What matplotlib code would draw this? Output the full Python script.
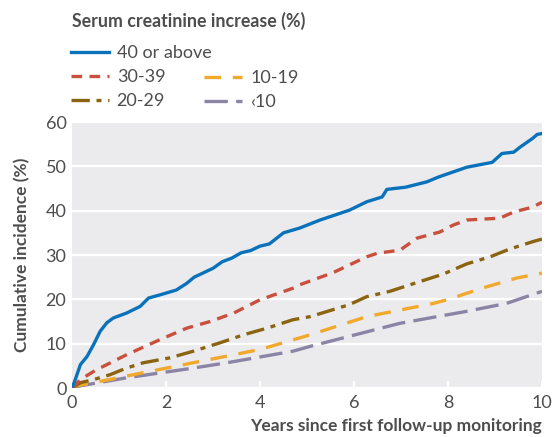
import numpy as np
import matplotlib.pyplot as plt

plt.rcParams['font.family'] = ['Lato', 'DejaVu Sans']

# cumulative incidence (%), by serum creatinine increase group
years_40 = [0, 0.07, 0.18, 0.32, 0.46, 0.6, 0.74, 0.88, 1.16, 1.45, 1.63, 1.87, 2.22, 2.44,
            2.6, 2.8, 3.0, 3.2, 3.4, 3.6, 3.8, 4.0, 4.2, 4.5, 4.85, 5.28, 5.9, 6.27, 6.6,
            6.7, 7.1, 7.55, 7.8, 8.4, 8.94, 9.15, 9.4, 9.53, 9.8, 9.9, 10.0]
inc_40 = [0, 1.9, 5.3, 7.1, 9.8, 12.8, 14.7, 15.8, 16.9, 18.4, 20.3, 21.0, 22.1, 23.6,
          25.0, 26.0, 27.0, 28.5, 29.3, 30.5, 31.0, 32.0, 32.5, 35.0, 36.1, 37.9, 40.1, 42.0, 43.1,
          44.8, 45.3, 46.5, 47.6, 49.8, 50.9, 52.9, 53.2, 54.3, 56.3, 57.2, 57.4]

years_30 = [0, 0.18, 0.5, 1.16, 1.87, 2.44, 2.94, 3.44, 4.0, 4.7, 4.85, 5.55, 6.27, 6.5,
            6.98, 7.34, 7.83, 8.1, 8.4, 9.1, 9.4, 9.8, 10.0]
inc_30 = [0, 1.9, 4.0, 7.5, 10.9, 13.5, 15.0, 16.9, 19.9, 22.5, 23.3, 26.0, 29.6, 30.4,
          31.1, 33.8, 35.2, 36.7, 37.9, 38.3, 39.7, 40.8, 41.9]

years_20 = [0, 0.18, 0.46, 0.81, 1.16, 1.52, 2.08, 2.58, 3.15, 3.65, 4.15, 4.7, 5.07,
            5.9, 6.27, 6.76, 7.4, 7.9, 8.4, 8.9, 9.3, 9.8, 10.0]
inc_20 = [0, 1.2, 1.9, 3.0, 4.5, 5.7, 6.8, 8.3, 10.2, 12.0, 13.5, 15.4, 16.1,
          18.8, 20.6, 21.8, 24.0, 25.7, 28.0, 29.6, 31.3, 33.0, 33.6]

years_10 = [0, 0.1, 0.46, 1.16, 1.87, 2.58, 3.3, 4.0, 4.36, 5.07, 6.27, 7.7, 8.04,
            8.75, 9.46, 10.0]
inc_10 = [0, 0.5, 1.2, 2.7, 4.2, 5.7, 7.2, 8.7, 9.8, 12.0, 16.1, 19.1, 20.1,
          22.6, 24.8, 25.9]

years_lt10 = [0, 0.18, 1.16, 1.87, 2.58, 3.3, 4.0, 4.7, 5.07, 6.98, 8.4, 9.25, 10.0]
inc_lt10 = [0, 0.5, 2.3, 3.4, 4.5, 5.7, 7.0, 8.3, 9.4, 14.6, 17.3, 19.1, 21.8]

x_ticks = [0, 2, 4, 6, 8, 10]
y_ticks = [0, 10, 20, 30, 40, 50, 60]

blue = '#0a72ba'
red = '#c9503c'
olive = '#8a6410'
orange = '#f0a92c'
purple = '#8c84a4'
text_col = '#4d4d4d'

fig = plt.figure(figsize=(5.52, 4.37), dpi=100)
ax = fig.add_axes([0.1304, 0.1121, 0.8514, 0.6087])
ax.set_facecolor('#ebebee')

l_lt10, = ax.plot(years_lt10, inc_lt10, color=purple, lw=2.4, dashes=(7, 2.5))
l_10, = ax.plot(years_10, inc_10, color=orange, lw=2.4, dashes=(5, 3.5))
l_20, = ax.plot(years_20, inc_20, color=olive, lw=2.4, dashes=(5.5, 2, 1.5, 2))
l_30, = ax.plot(years_30, inc_30, color=red, lw=2.4, dashes=(3.2, 2.2))
l_40, = ax.plot(years_40, inc_40, color=blue, lw=2.4)

ax.set_xlim(0, 10)
ax.set_ylim(0, 60)
ax.set_xticks(x_ticks)
ax.set_yticks(y_ticks)
ax.yaxis.grid(True, color='white', lw=1.6)
ax.set_axisbelow(True)
for s in ax.spines.values():
    s.set_visible(False)
ax.tick_params(axis='y', length=0, pad=4, labelsize=13, labelcolor=text_col)
ax.tick_params(axis='x', direction='in', length=5, width=1.5, color='white',
               pad=5, labelsize=13, labelcolor=text_col)

ax.set_ylabel('Cumulative incidence (%)', fontsize=12.5, fontweight='bold',
              color=text_col, labelpad=11)
ax.set_xlabel('Years since first follow-up monitoring', fontsize=12.5,
              fontweight='bold', color=text_col, loc='right', labelpad=5)

fig.text(0.1304, 0.952, 'Serum creatinine increase (%)', fontsize=12.8,
         fontweight='bold', color=text_col, va='center', ha='left')

leg_kw = dict(frameon=False, fontsize=13, handlelength=2.1, handletextpad=0.45,
              labelspacing=0.45, borderaxespad=0, borderpad=0, loc='upper left')
leg1 = fig.legend([l_40, l_30, l_20], ['40 or above', '30-39', '20-29'],
                  bbox_to_anchor=(0.128, 0.897), **leg_kw)
leg2 = fig.legend([l_10, l_lt10], ['10-19', '‹10'],
                  bbox_to_anchor=(0.370, 0.840), **leg_kw)
for leg in (leg1, leg2):
    for t in leg.get_texts():
        t.set_color(text_col)

fig.savefig('out.png', dpi=100)
